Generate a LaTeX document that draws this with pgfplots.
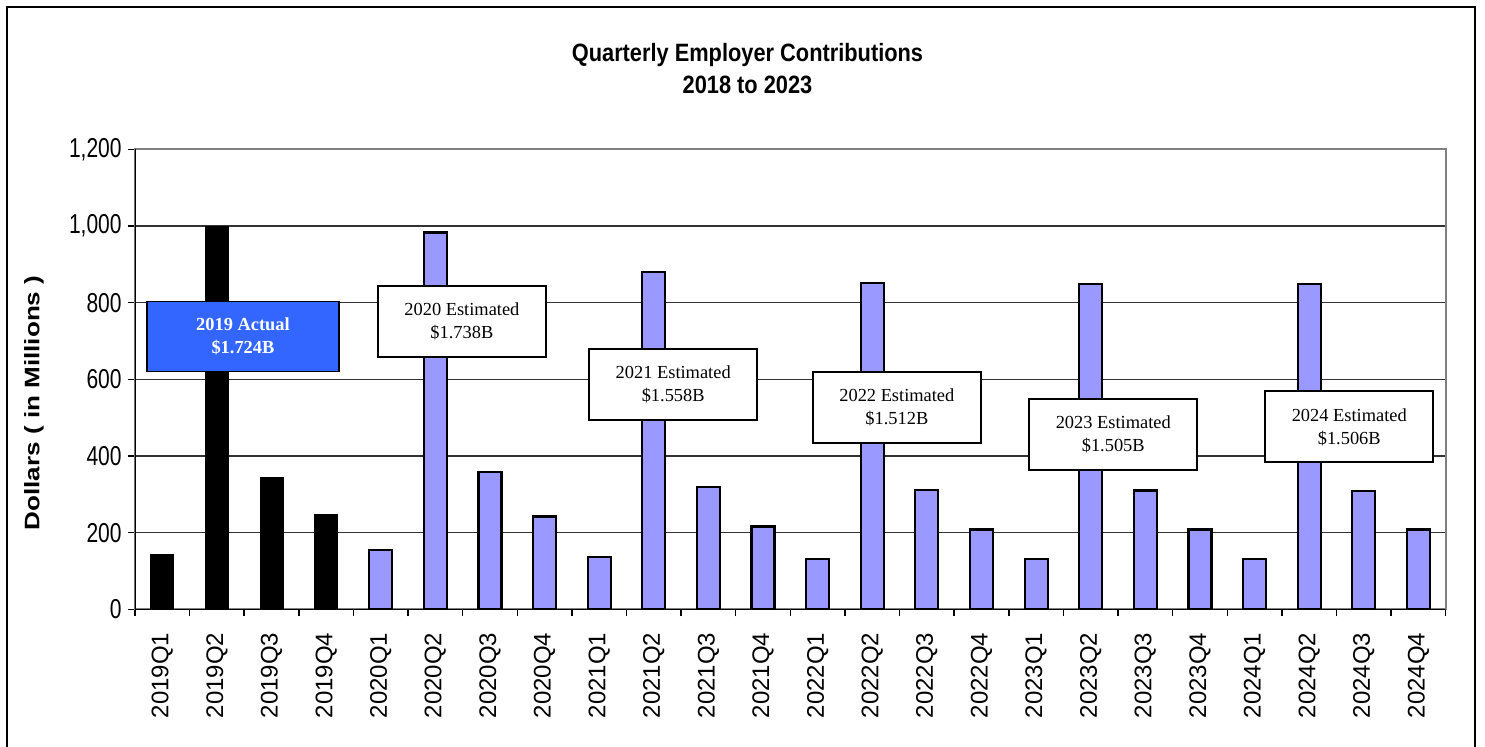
\documentclass[border=0pt]{standalone}
\usepackage{pgfplots}
\usepackage{pgfplotstable}
\usepackage{graphicx}
\usepackage{fontspec}
\pgfplotsset{compat=1.18}
\setmainfont{Liberation Sans}
\newfontfamily\timesfont{Liberation Serif}
\definecolor{estbar}{RGB}{153,153,255}
\definecolor{actbox}{RGB}{51,102,255}

% contributions in $ millions, one row per quarter
\pgfplotstableread{
x y
0 144
1 998
2 345
3 248
}\actual
\pgfplotstableread{
x y
4 154
5 983
6 358
7 242
8 137
9 879
10 320
11 216
12 132
13 852
14 312
15 208
16 131
17 849
18 310
19 208
20 132
21 849
22 309
23 208
}\estimated

\begin{document}
\begin{tikzpicture}
\begin{axis}[
    at={(67.5pt,68.85pt)}, anchor=south west,
    scale only axis, width=655.35pt, height=230pt,
    ybar, bar width=11.5pt,
    xmin=-0.5, xmax=23.5, ymin=0, ymax=1200,
    xtick={0,...,23},
    xticklabels={2019Q1,2019Q2,2019Q3,2019Q4,2020Q1,2020Q2,2020Q3,2020Q4,
                 2021Q1,2021Q2,2021Q3,2021Q4,2022Q1,2022Q2,2022Q3,2022Q4,
                 2023Q1,2023Q2,2023Q3,2023Q4,2024Q1,2024Q2,2024Q3,2024Q4},
    minor xtick={-0.5,0.5,...,23.5},
    ytick={0,200,...,1200},
    tick pos=left, tick align=outside,
    major tick length=3.5pt, minor tick length=3.5pt,
    major x tick style={draw=none},
    tick style={black, line width=0.75pt},
    /pgf/number format/1000 sep={,},
    /pgf/number format/assume math mode=true,
    yticklabel={\scalebox{1}[1.3]{\pgfmathprintnumber{\tick}}},
    yticklabel style={font=\fontsize{10.5}{12}\selectfont, inner sep=1pt, xshift=-2pt},
    xticklabel style={font=\fontsize{12}{14}\selectfont, yshift=-8pt, rotate=90, anchor=east, inner sep=0pt},
    ymajorgrids, grid style={black!80, line width=0.75pt},
    axis line style={gray, line width=1pt},
    title={\scalebox{1}[1.15]{Quarterly Employer Contributions}\\\scalebox{1}[1.15]{2018 to 2023}},
    title style={at={(axis description cs:0.4673,1.149)}, anchor=center, align=center,
        font=\fontsize{10.9}{16}\selectfont\bfseries},
    ylabel={\scalebox{1.24}[1]{Dollars ( in Millions  )}},
    ylabel style={at={(axis description cs:-0.0771,0.4485)}, anchor=center, rotate=0,
        font=\fontsize{10.5}{12}\selectfont\bfseries},
]
\addplot[bar shift=0pt, fill=black, draw=black, line width=0.5pt] table[x=x,y=y] {\actual};
\addplot[bar shift=0pt, fill=estbar, draw=black, line width=1.1pt] table[x=x,y=y] {\estimated};

\draw[black, line width=0.75pt] (rel axis cs:0,1) -- (rel axis cs:0,0) -- (rel axis cs:1,0);

\begin{scope}[every node/.style={draw=black, line width=1pt, fill=white, align=center,
        minimum width=84pt, minimum height=35.5pt, inner sep=0pt,
        font=\timesfont\fontsize{9.2}{11.5}\selectfont}]
\node[fill=actbox, text=white, line width=0.6pt, minimum width=96pt, minimum height=35pt,
      font=\timesfont\bfseries\fontsize{9.2}{11.5}\selectfont]
    at (axis cs:1.477,711) {2019 Actual\\\$1.724B};
\node at (axis cs:5.486,751) {2020 Estimated\\\$1.738B};
\node at (axis cs:9.355,586) {2021 Estimated\\\$1.558B};
\node at (axis cs:13.45,526) {2022 Estimated\\\$1.512B};
\node at (axis cs:17.413,457) {2023 Estimated\\\$1.505B};
\node at (axis cs:21.734,476) {2024 Estimated\\\$1.506B};
\end{scope}
\end{axis}
\draw[black, line width=1pt] (3.5pt,-5pt) rectangle (737.5pt,370pt);
\pgfresetboundingbox
\useasboundingbox (0,0) rectangle (742.5pt,373.5pt);
\end{tikzpicture}
\end{document}
